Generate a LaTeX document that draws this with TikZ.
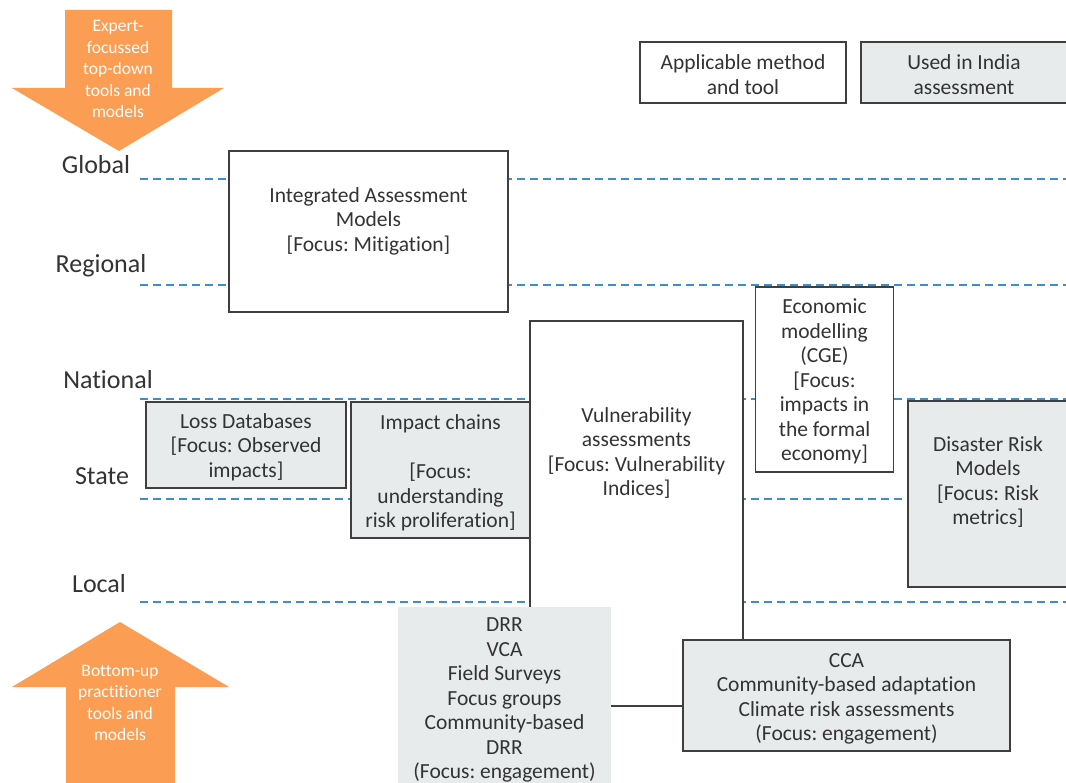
\documentclass[tikz,border=0pt]{standalone}
\usepackage{fontspec}
\setmainfont[Ligatures=NoCommon]{Carlito}
\frenchspacing
\definecolor{boxline}{HTML}{3F3F3F}
\definecolor{boxgray}{HTML}{E8EBEC}
\definecolor{levelblue}{HTML}{3D8FCC}
\definecolor{arroworange}{HTML}{FB9D52}
\definecolor{txt}{HTML}{333333}
\begin{document}
\begin{tikzpicture}[x=1pt,y=-1pt,
  txtfont/.style={font=\fontsize{21.5}{24.5}\selectfont\frenchspacing, text=txt, align=center, inner sep=0pt, yshift=-2pt},
  levelfont/.style={font=\fontsize{26}{30}\selectfont, text=txt, inner sep=0pt},
  arrowfont/.style={font=\fontsize{17.5}{21.5}\selectfont, text=white, align=center, inner sep=0pt},
  whitebox/.style={draw=boxline, line width=1.3pt, fill=white, rectangle, inner sep=0pt},
  graybox/.style={draw=boxline, line width=1.3pt, fill=boxgray, rectangle, inner sep=0pt},
  plainbox/.style={fill=boxgray, rectangle, inner sep=0pt},
  levelline/.style={draw=levelblue, line width=1.4pt, dash pattern=on 8pt off 5pt},
  bigarrow/.style={fill=arroworange, draw=none}
]
\clip (0,0) rectangle (1066,783);
\fill[white] (0,0) rectangle (1066,783);

% orange arrows
\fill[bigarrow] (65,10) -- (172,10) -- (172,88) -- (224,88) -- (119,151) -- (12,88) -- (65,88) -- cycle;
\node[arrowfont] (topt) at (118,69) {Expert-\\focussed\\top-down\\tools and\\models};
\fill[bigarrow] (120,622) -- (229,687) -- (175,687) -- (175,790) -- (66,790) -- (66,687) -- (12,687) -- cycle;
\node[arrowfont] (bott) at (120,703) {Bottom-up\\practitioner\\tools and\\models};

% level labels
\node[levelfont] (global) at (96,165) {Global};
\node[levelfont] (regional) at (101,266) {Regional};
\node[levelfont] (national) at (108,380) {National};
\node[levelfont] (state) at (102,476) {State};
\node[levelfont] (local) at (99,584) {Local};

% dashed level lines
\coordinate (gA) at (140,179); \coordinate (gB) at (1066,179);
\coordinate (rA) at (140,285); \coordinate (rB) at (1066,285);
\coordinate (nA) at (140,399); \coordinate (nB) at (1066,399);
\coordinate (sA) at (140,499); \coordinate (sB) at (1066,499);
\coordinate (lA) at (140,602); \coordinate (lB) at (1066,602);
\draw[levelline] (gA) -- (gB);
\draw[levelline] (rA) -- (rB);
\draw[levelline] (nA) -- (nB);
\draw[levelline] (sA) -- (sB);
\draw[levelline] (lA) -- (lB);

% legend
\node[whitebox, minimum width=206, minimum height=61] (leg1) at (743,72.5) {};
\node[txtfont] at (leg1.center) {Applicable method\\and tool};
\node[graybox, minimum width=210, minimum height=61] (leg2) at (966,72.5) {};
\node[txtfont] at (964,72.5) {Used in India\\assessment};

% boxes
\node[whitebox, minimum width=279, minimum height=161] (iam) at (368.5,231.5) {};
\node[txtfont] (iamt) at (368.5,219) {Integrated Assessment\\Models\\{[}Focus: Mitigation{]}};

\node[whitebox, minimum width=213, minimum height=385] (vul) at (636.5,513.5) {};
\node[txtfont] (vult) at (636.5,451) {Vulnerability\\assessments\\{[}Focus: Vulnerability\\Indices{]}};

\node[whitebox, minimum width=138, minimum height=185] (eco) at (824.5,379.5) {};
\node[txtfont] at (eco.center) {Economic\\modelling\\(CGE)\\{[}Focus:\\impacts in\\the formal\\economy{]}};

\node[graybox, minimum width=200, minimum height=86] (loss) at (246,445) {};
\node[txtfont] at (loss.center) {Loss Databases\\{[}Focus: Observed\\impacts{]}};

\node[graybox, minimum width=179, minimum height=136] (chain) at (440.5,470) {};
\node[txtfont] at (440.5,471) {Impact chains\\[24.5pt]{[}Focus:\\understanding\\risk proliferation{]}};

\node[graybox, minimum width=162, minimum height=186] (dis) at (989,494) {};
\node[txtfont] (dist) at (988,480) {Disaster Risk\\Models\\{[}Focus: Risk\\metrics{]}};

\node[plainbox, minimum width=213, minimum height=190] (drr) at (504.5,702) {};
\node[txtfont] (drrt) at (504.5,698) {DRR\\VCA\\Field Surveys\\Focus groups\\Community-based\\DRR\\(Focus: engagement)};

\node[graybox, minimum width=327, minimum height=111] (cca) at (846.5,695.5) {};
\node[txtfont] at (846.5,697) {CCA\\Community-based adaptation\\Climate risk assessments\\(Focus: engagement)};
\end{tikzpicture}
\end{document}
